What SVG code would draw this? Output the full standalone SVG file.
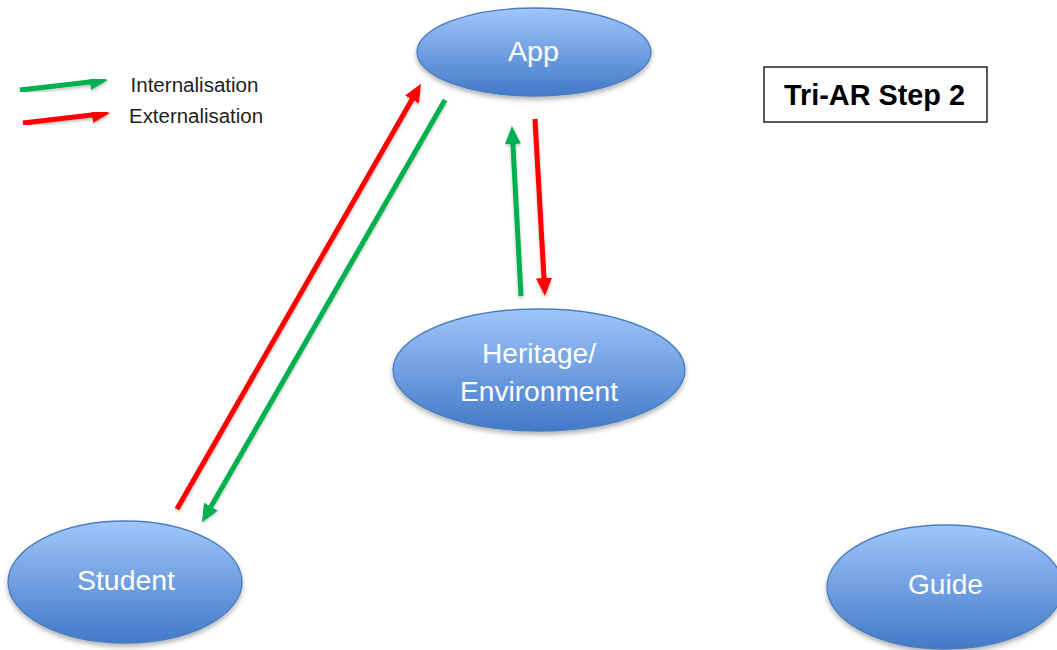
<svg xmlns="http://www.w3.org/2000/svg" width="1057" height="650" viewBox="0 0 1057 650">
<defs>
<style>
.node{fill:url(#g);stroke:#4a7ebb;stroke-width:1.3;filter:url(#sh)}
.nt{font-family:"Liberation Sans",Arial,sans-serif;font-size:27px;fill:#fff;text-anchor:middle}
.lg{font-family:"Liberation Sans",Arial,sans-serif;font-size:19.5px;fill:#222}
.r{stroke:#ff0000;stroke-width:5;fill:none}
.gr{stroke:#00b050;stroke-width:5;fill:none}
</style>
<linearGradient id="g" x1="0" y1="0" x2="0" y2="1">
<stop offset="0" stop-color="#a0c6fa"/>
<stop offset="1" stop-color="#4279c8"/>
</linearGradient>
<filter id="sh" x="-10%" y="-10%" width="120%" height="130%">
<feDropShadow dx="0" dy="3" stdDeviation="2.5" flood-color="#000" flood-opacity="0.3"/>
</filter>
<filter id="ash" x="-20%" y="-20%" width="140%" height="140%">
<feDropShadow dx="0" dy="2" stdDeviation="1.5" flood-color="#000" flood-opacity="0.25"/>
</filter>
<marker id="mr" markerUnits="userSpaceOnUse" markerWidth="18" markerHeight="16" viewBox="0 0 18 16" refX="4" refY="8" orient="auto"><path d="M0,0 L18,8 L0,16 z" fill="#ff0000"/></marker>
<marker id="mg" markerUnits="userSpaceOnUse" markerWidth="18" markerHeight="16" viewBox="0 0 18 16" refX="4" refY="8" orient="auto"><path d="M0,0 L18,8 L0,16 z" fill="#00b050"/></marker>
</defs>
<rect width="1057" height="650" fill="#fff"/>
<g id="legend">
<line class="gr" x1="20" y1="90" x2="94" y2="81.6" marker-end="url(#mg)" filter="url(#ash)"/>
<line class="r" x1="23" y1="123" x2="96" y2="114.6" marker-end="url(#mr)" filter="url(#ash)"/>
<text class="lg" x="130.5" y="92" textLength="128" lengthAdjust="spacingAndGlyphs">Internalisation</text>
<text class="lg" x="129" y="123" textLength="134" lengthAdjust="spacingAndGlyphs">Externalisation</text>
</g>
<g id="title">
<rect x="764" y="67" width="223" height="55" fill="#fff" stroke="#000" stroke-width="1.3"/>
<text x="874.5" y="105" font-family="'Liberation Sans',Arial,sans-serif" font-size="29" font-weight="bold" text-anchor="middle" fill="#000" textLength="181" lengthAdjust="spacingAndGlyphs">Tri-AR Step 2</text>
</g>
<g id="connectors" filter="url(#ash)">
<line class="r" x1="177" y1="509" x2="414" y2="96" marker-end="url(#mr)"/>
<line class="gr" x1="445" y1="100" x2="209" y2="510" marker-end="url(#mg)"/>
<line class="gr" x1="521" y1="296" x2="512.7" y2="140" marker-end="url(#mg)"/>
<line class="r" x1="535" y1="119" x2="544.2" y2="282" marker-end="url(#mr)"/>
</g>
<g id="app">
<ellipse class="node" cx="534" cy="52" rx="117" ry="44"/>
<text class="nt" x="533.5" y="61" textLength="51" lengthAdjust="spacingAndGlyphs">App</text>
</g>
<g id="heritage">
<ellipse class="node" cx="539" cy="370" rx="146" ry="61"/>
<text class="nt" x="539" y="363" textLength="114" lengthAdjust="spacingAndGlyphs">Heritage/</text>
<text class="nt" x="539" y="401" textLength="158" lengthAdjust="spacingAndGlyphs">Environment</text>
</g>
<g id="student">
<ellipse class="node" cx="125" cy="582" rx="117" ry="61"/>
<text class="nt" x="126" y="590" textLength="98" lengthAdjust="spacingAndGlyphs">Student</text>
</g>
<g id="guide">
<ellipse class="node" cx="945" cy="587" rx="118" ry="62"/>
<text class="nt" x="945.5" y="594" textLength="75" lengthAdjust="spacingAndGlyphs">Guide</text>
</g>
</svg>
